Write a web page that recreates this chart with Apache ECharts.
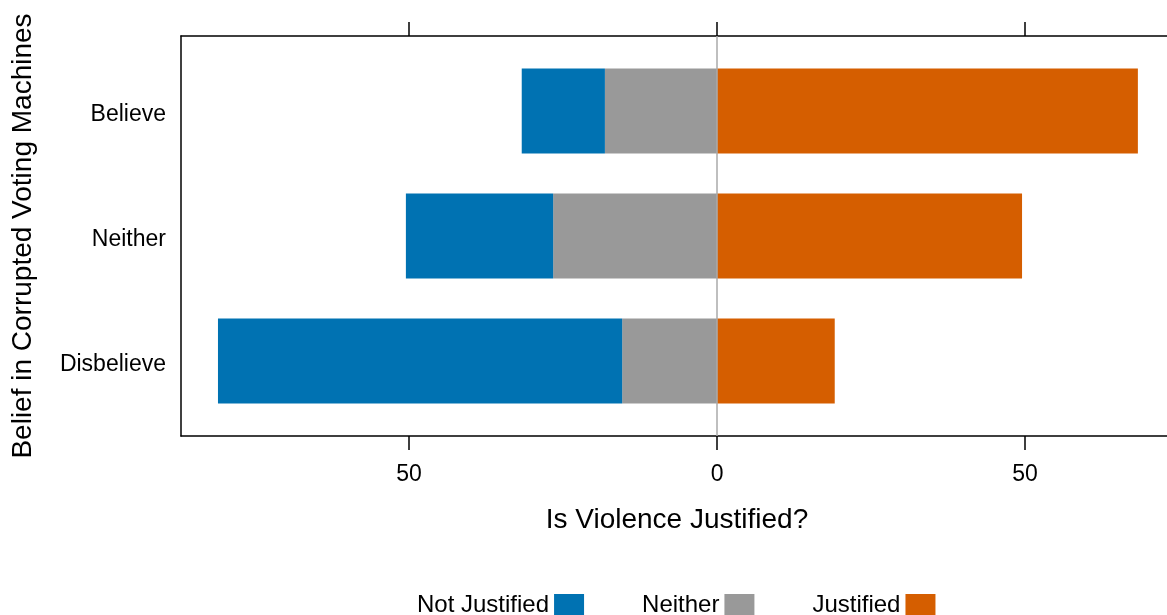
<!DOCTYPE html>
<html>
<head>
<meta charset="utf-8">
<script src="https://cdn.jsdelivr.net/npm/echarts@6/dist/echarts.min.js"></script>
<style>
html,body{margin:0;padding:0;background:#fff;}
#chart{width:1167px;height:615px;}
</style>
</head>
<body>
<div id="chart"></div>
<script>
// categories listed bottom to top
const categories = ['Disbelieve', 'Neither', 'Believe'];
const notJustified = [65.6, 23.9, 13.5];
const neitherVals = [15.4, 26.6, 18.2];
const justified = [19.1, 49.5, 68.3];
const tickValues = [-50, 0, 50];
const seriesNames = ['Not Justified', 'Neither', 'Justified'];
const colors = ['#0072B2', '#999999', '#D55E00'];

const FONT = 'Liberation Sans, Arial, Helvetica, sans-serif';
const xMin = -87, xMax = 74;
const gridLeft = 181, gridRight = -6;

const chart = echarts.init(document.getElementById('chart'));
const absFmt = v => String(Math.abs(v));

const option = {
  animation: false,
  backgroundColor: '#ffffff',
  textStyle: { fontFamily: FONT, color: '#000' },
  grid: [
    { left: gridLeft, right: gridRight, top: 36, height: 400, containLabel: false, outerBoundsMode: 'none' },
    { left: gridLeft, right: gridRight, top: 48.5, height: 375, containLabel: false, outerBoundsMode: 'none' }
  ],
  legend: {
    data: seriesNames,
    left: 412,
    top: 588,
    align: 'right',
    icon: 'rect',
    itemWidth: 30,
    itemHeight: 22,
    itemGap: 58,
    textStyle: { fontFamily: FONT, fontSize: 24, color: '#000', padding: [0, 0, 0, 0] }
  },
  xAxis: [
    {
      type: 'value', gridIndex: 0, position: 'bottom', min: xMin, max: xMax,
      name: 'Is Violence Justified?', nameLocation: 'middle', nameGap: 70,
      nameTextStyle: { fontFamily: FONT, fontSize: 28, color: '#000' },
      axisLine: { show: true, onZero: false, lineStyle: { color: '#000', width: 1.5 } },
      axisTick: { show: true, inside: false, length: 14, customValues: tickValues, lineStyle: { color: '#000', width: 1.5 } },
      axisLabel: { show: true, margin: 27, customValues: tickValues, formatter: absFmt, fontFamily: FONT, fontSize: 23, color: '#000' },
      splitLine: { show: false }
    },
    {
      type: 'value', gridIndex: 0, position: 'top', min: xMin, max: xMax,
      axisLine: { show: true, onZero: false, lineStyle: { color: '#000', width: 1.5 } },
      axisTick: { show: true, inside: false, length: 14, customValues: tickValues, lineStyle: { color: '#000', width: 1.5 } },
      axisLabel: { show: false },
      splitLine: { show: false }
    },
    {
      type: 'value', gridIndex: 1, min: xMin, max: xMax,
      axisLine: { show: false }, axisTick: { show: false }, axisLabel: { show: false }, splitLine: { show: false }
    }
  ],
  yAxis: [
    {
      type: 'value', gridIndex: 0, min: 0, max: 1, position: 'left',
      name: 'Belief in Corrupted Voting Machines', nameLocation: 'middle', nameGap: 144,
      nameTextStyle: { fontFamily: FONT, fontSize: 28, color: '#000' },
      axisLine: { show: true, onZero: false, lineStyle: { color: '#000', width: 1.5 } },
      axisTick: { show: false }, axisLabel: { show: false }, splitLine: { show: false }
    },
    {
      type: 'value', gridIndex: 0, min: 0, max: 1, position: 'right',
      axisLine: { show: true, onZero: false, lineStyle: { color: '#000', width: 1.5 } },
      axisTick: { show: false }, axisLabel: { show: false }, splitLine: { show: false }
    },
    {
      type: 'category', gridIndex: 1, data: categories,
      axisLine: { show: false }, axisTick: { show: false },
      axisLabel: {
        show: true, margin: 15, fontFamily: FONT, fontSize: 23, color: '#000',
        formatter: v => '{c|' + v + '}',
        rich: { c: { fontFamily: FONT, fontSize: 23, color: '#000', padding: [7, 0, 0, 0] } }
      },
      splitLine: { show: false }
    }
  ],
  series: [
    {
      name: 'zero', type: 'line', xAxisIndex: 0, yAxisIndex: 0, data: [], z: 1,
      silent: true,
      markLine: {
        silent: true, symbol: 'none', label: { show: false },
        lineStyle: { color: '#aaaaaa', width: 1.5, type: 'solid' },
        data: [{ xAxis: 0 }]
      }
    },
    {
      name: 'Neither', type: 'bar', stack: 'total', xAxisIndex: 2, yAxisIndex: 2,
      barWidth: 85, z: 3, itemStyle: { color: colors[1] },
      data: neitherVals.map(v => -v)
    },
    {
      name: 'Not Justified', type: 'bar', stack: 'total', xAxisIndex: 2, yAxisIndex: 2,
      barWidth: 85, z: 3, itemStyle: { color: colors[0] },
      data: notJustified.map(v => -v)
    },
    {
      name: 'Justified', type: 'bar', stack: 'total', xAxisIndex: 2, yAxisIndex: 2,
      barWidth: 85, z: 3, itemStyle: { color: colors[2] },
      data: justified
    }
  ]
};
chart.setOption(option);
</script>
</body>
</html>
